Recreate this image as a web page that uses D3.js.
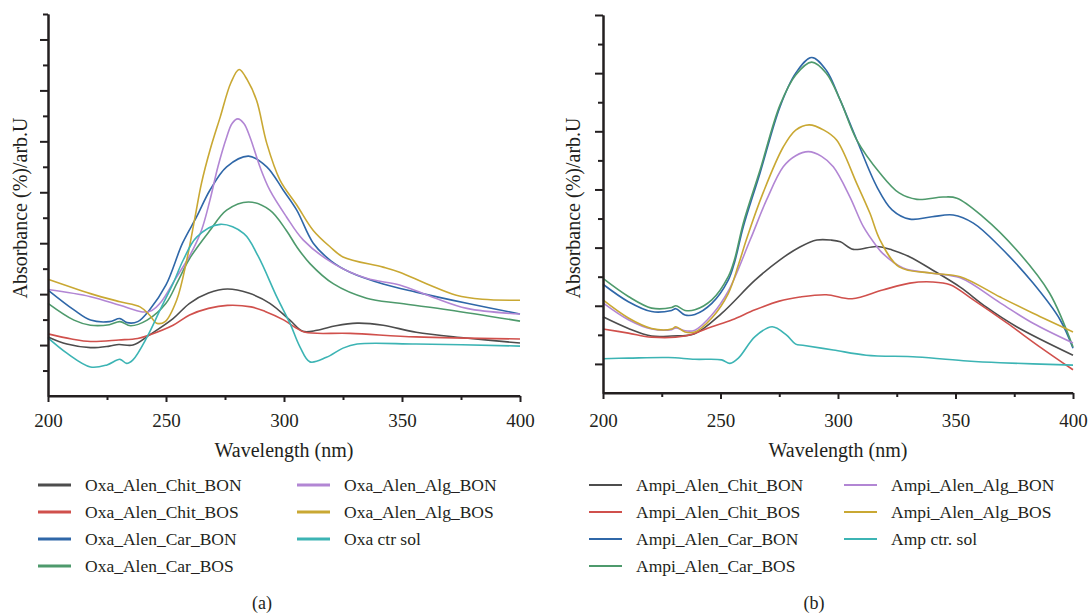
<!DOCTYPE html>
<html>
<head>
<script src="https://d3js.org/d3.v7.min.js"></script>
<title>Absorbance spectra</title>
<style>
body {margin:0; background:#fff;}
text {font-family:"Liberation Serif","Times New Roman",serif; fill:#231f20;}
.axis path, .axis line {stroke:#231f20; stroke-width:2;}
</style>
</head>
<body>
<div id="myDiv"></div>
<script>
// ---- data (wavelength nm, absorbance arb.U) ----
var xTicks = [200, 250, 300, 350, 400];

var oxaNames = ["Oxa_Alen_Chit_BON","Oxa_Alen_Chit_BOS","Oxa_Alen_Car_BON","Oxa_Alen_Car_BOS",
                "Oxa_Alen_Alg_BON","Oxa_Alen_Alg_BOS","Oxa ctr sol"];
var ampNames = ["Ampi_Alen_Chit_BON","Ampi_Alen_Chit_BOS","Ampi_Alen_Car_BON","Ampi_Alen_Car_BOS",
                "Ampi_Alen_Alg_BON","Ampi_Alen_Alg_BOS","Amp ctr. sol"];
var colors = ["#4d4d4d","#d0504c","#2f67a8","#4e9a6c","#b286d4","#c9a833","#3cb4b4"];

var oxaChitBON = [[200,1.16],[208,1.02],[218,0.95],[226,0.98],[230,1.01],[236,1.00],[243,1.20],[253,1.52],[260,1.82],
  [268,2.02],[276,2.10],[285,2.02],[294,1.82],[302.5,1.49],[308,1.27],[314,1.29],[322,1.38],[331,1.43],[342,1.39],
  [356,1.25],[377,1.14],[400,1.04]];
var oxaChitBOS = [[200,1.22],[210,1.12],[218,1.07],[230,1.10],[238,1.13],[243,1.20],[253,1.39],[260,1.59],[268,1.72],
  [276,1.78],[286,1.75],[292,1.66],[300,1.49],[305,1.34],[309,1.25],[328,1.23],[356,1.16],[400,1.12]];
var oxaCarBON = [[200,2.08],[211,1.69],[218,1.49],[226,1.46],[230.5,1.52],[233.5,1.44],[238,1.46],[243,1.69],[250,2.18],
  [257,3.0],[263,3.52],[268.6,4.04],[275.7,4.5],[285,4.71],[292.7,4.5],[299.7,4.04],[305.4,3.65],[312.4,3.0],[320,2.65],
  [328,2.43],[342,2.2],[356,2.04],[377.5,1.82],[400,1.61]];
var oxaCarBOS = [[200,1.82],[211,1.49],[218,1.39],[226,1.40],[230.5,1.46],[235,1.38],[242,1.49],[250,1.82],[255,2.25],
  [260,2.7],[268.6,3.25],[275.7,3.65],[285,3.81],[294,3.65],[301,3.25],[305.4,2.93],[311,2.6],[321,2.2],[335,1.92],
  [349,1.82],[370,1.69],[400,1.47]];
var oxaAlgBON = [[200,2.09],[218,1.95],[230.5,1.78],[240,1.65],[244,1.68],[248,1.85],[254,2.3],[260,2.75],[265,3.25],
  [268.6,3.84],[272,4.5],[275.7,5.08],[278,5.35],[280.4,5.44],[283,5.35],[285.6,5.08],[289.8,4.5],[294,4.04],[301,3.52],
  [308.2,3.06],[321,2.6],[335,2.31],[349,2.18],[363,1.94],[377.5,1.72],[400,1.61]];
var oxaAlgBOS = [[200,2.29],[218,2.01],[230.5,1.85],[239,1.75],[243,1.59],[246,1.43],[249.6,1.46],[254.5,1.88],
  [258.8,2.67],[262.3,3.51],[265,4.17],[268.6,4.82],[273,5.48],[277.5,6.15],[281,6.41],[284.5,6.2],[288.4,5.8],
  [292.7,4.96],[298.3,4.24],[305.4,3.75],[312.4,3.25],[319.5,2.93],[325,2.73],[342,2.53],[349,2.43],[360.6,2.2],
  [373,1.98],[384,1.9],[400,1.88]];
var oxaCtrSol = [[200,1.14],[208,0.84],[218,0.57],[225,0.61],[230.5,0.72],[233.3,0.64],[236,0.71],[242,1.16],
  [247.5,1.69],[253,2.21],[257.3,2.67],[263,3.12],[273,3.37],[283,3.19],[289,2.75],[297,1.94],
  [302.5,1.43],[306.8,0.96],[311,0.67],[318,0.76],[325,0.94],[331,1.02],[356,1.02],[400,0.98]];

var ampChitBON = [[200,0.81],[210.8,0.61],[220.7,0.48],[229.2,0.48],[239,0.52],[250.5,0.87],[264.7,1.44],[275.3,1.79],
  [283.8,2.01],[291,2.13],[297,2.13],[301,2.1],[306.5,1.97],[316.5,2.02],[323,1.96],[330.6,1.84],[340,1.62],[352,1.32],
  [363,0.98],[376,0.64],[400,0.15]];
var ampChitBOS = [[200,0.6],[210.8,0.53],[220.7,0.46],[234.9,0.48],[246.3,0.64],[255,0.76],[264.7,0.93],[275,1.08],
  [283.8,1.15],[295,1.19],[306,1.12],[319,1.27],[330.6,1.39],[340,1.41],[347.7,1.36],[357.6,1.1],[372,0.7],[386,0.29],
  [400,-0.1]];
var ampCarBON = [[200,1.37],[210.8,1.07],[220.7,0.9],[229.2,0.92],[231,0.95],[234.9,0.84],[239.1,0.85],[246.3,1.04],
  [253.3,1.44],[256,1.75],[259.7,2.36],[266.8,3.28],[275.3,4.42],[282,5.0],[288.8,5.27],[295,5.05],[300.9,4.54],
  [308,3.85],[316.5,3.05],[323,2.65],[330.6,2.49],[340,2.53],[349,2.56],[357.6,2.42],[369,2.01],[383,1.39],
  [394.5,0.76],[400,0.27]];
var ampCarBOS = [[200,1.47],[210.8,1.16],[220.7,0.96],[229.2,0.97],[231,1.0],[234.9,0.92],[239.1,0.93],[246.3,1.1],
  [253.3,1.5],[256,1.8],[259.7,2.42],[266.8,3.33],[275.3,4.45],[282,4.97],[288.8,5.19],[295,5.0],[300.9,4.54],
  [308,3.85],[317.9,3.28],[326,2.94],[333.6,2.83],[344.7,2.87],[350.6,2.85],[361.7,2.53],[376,1.96],[390,1.22],
  [400,0.29]];
var ampAlgBON = [[200,1.05],[210.8,0.76],[220.7,0.6],[229.2,0.59],[231,0.62],[234.9,0.57],[239.1,0.58],[246.3,0.84],
  [253.3,1.25],[262.6,2.13],[269.6,2.82],[276.7,3.39],[282,3.58],[287.4,3.65],[293,3.57],[298,3.39],[305.1,2.87],
  [310.8,2.36],[316.5,2.02],[319,1.9],[327.7,1.65],[340,1.56],[352,1.48],[369,1.05],[383,0.7],[400,0.36]];
var ampAlgBOS = [[200,1.1],[210.8,0.79],[220.7,0.61],[229.2,0.6],[231,0.64],[234.9,0.55],[239.1,0.55],[246.3,0.79],
  [253.3,1.21],[257.6,1.7],[261.1,2.15],[268.2,2.95],[276.7,3.73],[282,4.02],[287.7,4.11],[294,4.02],[299.4,3.85],
  [308,3.1],[313.6,2.59],[317.9,2.13],[326,1.67],[340,1.56],[352,1.5],[369,1.15],[383,0.87],[400,0.55]];
var ampCtrSol = [[200,0.09],[210.8,0.1],[227.9,0.11],[239.1,0.08],[250.5,0.07],[254,0.01],[257.6,0.1],[264.7,0.47],
  [272,0.64],[278,0.5],[282,0.34],[285,0.32],[298,0.24],[312,0.15],[333.6,0.12],[355,0.05],[369,0.02],[400,-0.02]];

var oxaSeries = [oxaChitBON, oxaChitBOS, oxaCarBON, oxaCarBOS, oxaAlgBON, oxaAlgBOS, oxaCtrSol];
var ampSeries = [ampChitBON, ampChitBOS, ampCarBON, ampCarBOS, ampAlgBON, ampAlgBOS, ampCtrSol];

var svg = d3.select("#myDiv").append("svg")
    .attr("width", 1088)
    .attr("height", 616);

function panel(cfg) {
    var x = d3.scaleLinear().domain([200, 400]).range([cfg.x0, cfg.x1]);
    var y = d3.scaleLinear().domain(cfg.yDomain).range([cfg.yBottom, cfg.yTop]);

    // lines
    var line = d3.line()
        .x(function(d) { return x(d[0]); })
        .y(function(d) { return y(d[1]); })
        .curve(d3.curveCatmullRom.alpha(0.5));

    svg.append("g").selectAll("path")
        .data(cfg.series)
        .enter().append("path")
        .attr("d", line)
        .attr("fill", "none")
        .attr("stroke", function(d, i) { return colors[i]; })
        .attr("stroke-width", 1.6);

    // y axis (no labels), major + minor ticks
    svg.append("g").attr("class", "axis")
        .attr("transform", "translate(" + cfg.x0 + ",0)")
        .call(d3.axisLeft(y).tickValues(cfg.yMinor).tickSize(5).tickSizeOuter(0).tickFormat(""));
    svg.append("g").attr("class", "axis")
        .attr("transform", "translate(" + cfg.x0 + ",0)")
        .call(d3.axisLeft(y).tickValues(cfg.yMajor).tickSize(8).tickSizeOuter(0).tickFormat(""));

    // x axis
    svg.append("g").attr("class", "axis")
        .attr("transform", "translate(0," + cfg.yBottom + ")")
        .call(d3.axisBottom(x).tickValues([225, 275, 325, 375]).tickSize(4).tickSizeOuter(0).tickFormat(""));
    var xa = svg.append("g").attr("class", "axis")
        .attr("transform", "translate(0," + cfg.yBottom + ")")
        .call(d3.axisBottom(x).tickValues(xTicks).tickSize(6).tickSizeOuter(0));
    xa.selectAll("text")
        .attr("y", null).attr("dy", null)
        .attr("transform", "translate(0," + (427 - cfg.yBottom) + ")")
        .style("font-size", "19px")
        .style("font-family", "'Liberation Serif', serif")
        .attr("fill", "#231f20");
    xa.select(".domain").attr("d", "M" + cfg.x0 + ",0H" + cfg.x1);

    svg.append("text")
        .attr("x", (cfg.x0 + cfg.x1) / 2).attr("y", 457)
        .attr("text-anchor", "middle")
        .style("font-size", "20px")
        .text("Wavelength (nm)");

    svg.append("text")
        .attr("transform", "translate(" + cfg.yTitleX + ",208) rotate(-90)")
        .attr("text-anchor", "middle")
        .style("font-size", "20px")
        .text("Absorbance (%)/arb.U");

    // legend
    var leg = svg.append("g");
    cfg.names.forEach(function(name, i) {
        var col = i < 4 ? 0 : 1;
        var row = i < 4 ? i : i - 4;
        var lx = cfg.legX[col];
        var ly = 485 + row * 27;
        leg.append("line")
            .attr("x1", lx).attr("x2", lx + 33)
            .attr("y1", ly).attr("y2", ly)
            .attr("stroke", colors[i])
            .attr("stroke-width", cfg.legW);
        leg.append("text")
            .attr("x", lx + cfg.legGap).attr("y", ly + 6)
            .style("font-size", "17.5px")
            .text(name);
    });

    svg.append("text")
        .attr("x", cfg.capX).attr("y", 609)
        .attr("text-anchor", "middle")
        .style("font-size", "18px")
        .text(cfg.caption);
}

panel({
    x0: 48, x1: 520, yBottom: 396, yTop: 14, yDomain: [0, 7.5],
    yMajor: [1, 2, 3, 4, 5, 6, 7], yMinor: [0.5, 1.5, 2.5, 3.5, 4.5, 5.5, 6.5, 7.5],
    series: oxaSeries, names: oxaNames, yTitleX: 27,
    legX: [38, 297], legGap: 47, legW: 3, capX: 262, caption: "(a)"
});

panel({
    x0: 603, x1: 1073, yBottom: 393, yTop: 15, yDomain: [-0.5, 6],
    yMajor: [0, 1, 2, 3, 4, 5, 6], yMinor: [0.5, 1.5, 2.5, 3.5, 4.5, 5.5],
    series: ampSeries, names: ampNames, yTitleX: 580,
    legX: [589, 844], legGap: 47, legW: 2, capX: 814, caption: "(b)"
});
</script>
</body>
</html>
